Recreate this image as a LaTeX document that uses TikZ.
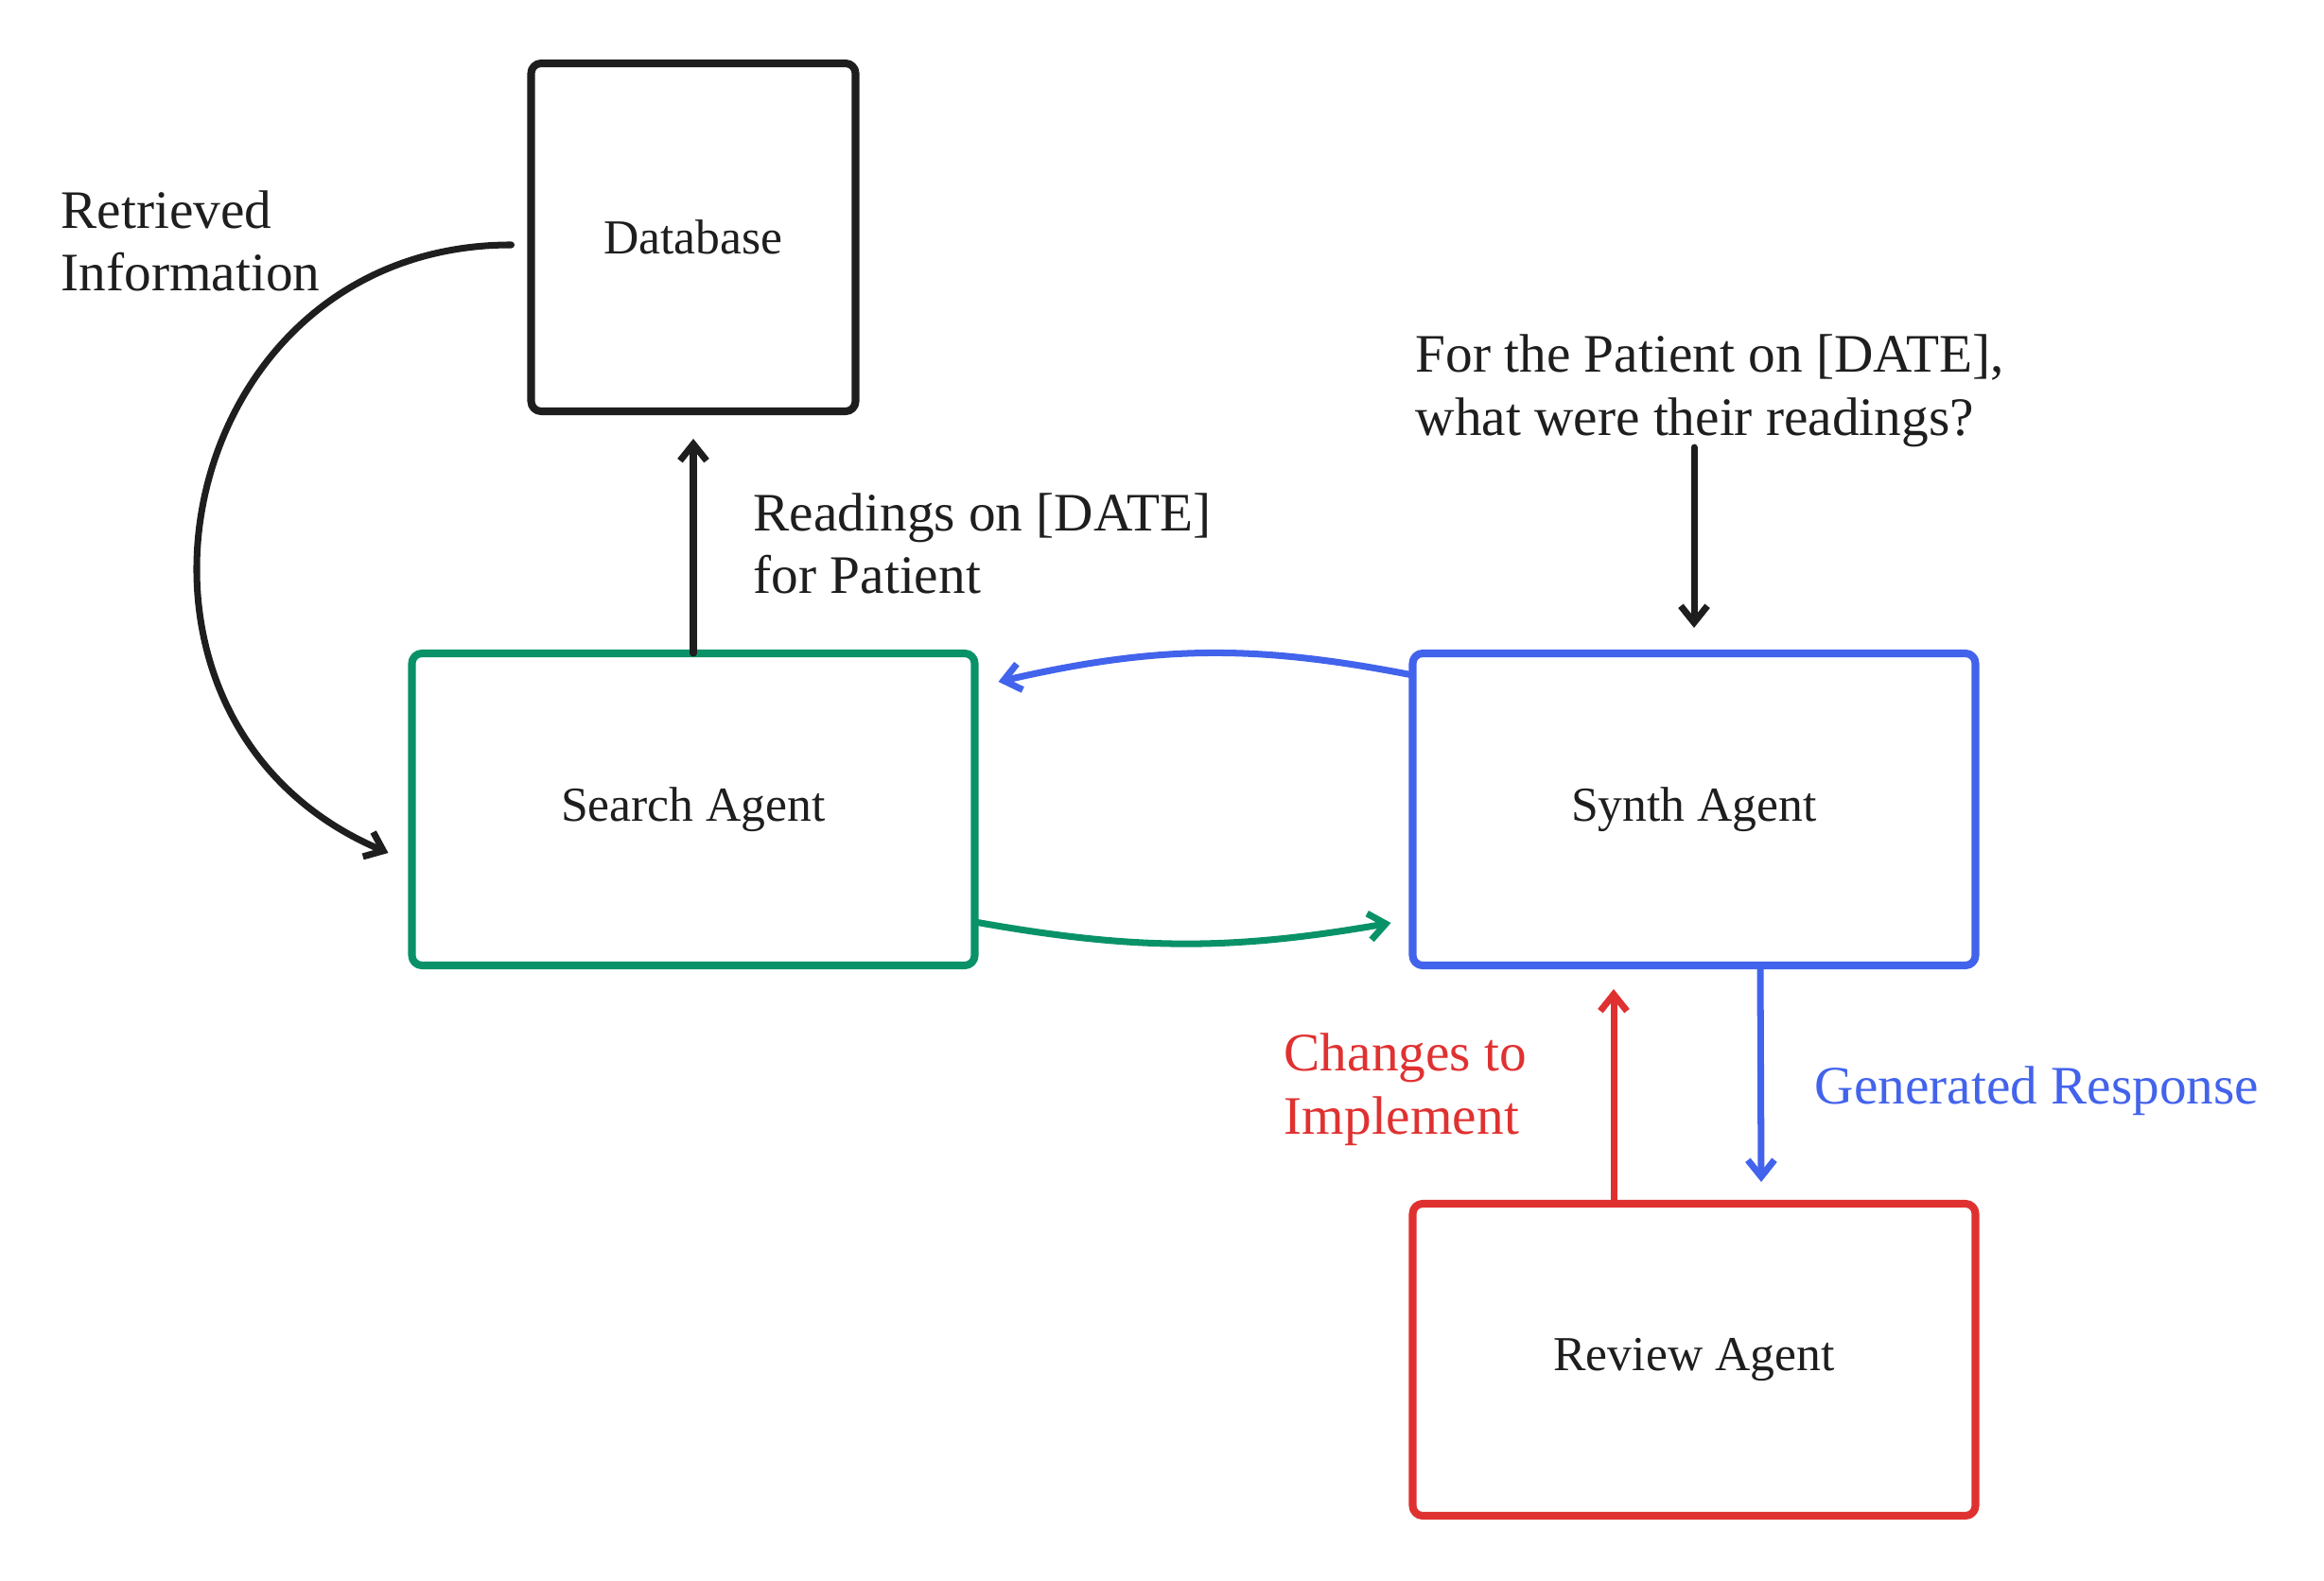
\documentclass[tikz,border=0pt]{standalone}
\usepackage{fontspec}
\setmainfont{Liberation Serif}
\usepackage{tikz}
\usetikzlibrary{arrows.meta}
\usetikzlibrary{positioning}
\definecolor{inkblack}{HTML}{1E1E1E}
\definecolor{agentgreen}{HTML}{099268}
\definecolor{agentblue}{HTML}{4263EB}
\definecolor{agentred}{HTML}{E03131}
\begin{document}
\begin{tikzpicture}[>={Straight Barb[length=5pt,width=8pt]}, line cap=round, line join=round]
\tikzstyle{box}=[draw, line width=2.3pt, rounded corners=3pt, fill=white, inner sep=0pt, outer sep=0pt, minimum width=5.95cm, minimum height=3.30cm, text=inkblack, font=\fontsize{14.7}{17.6}\selectfont]
\tikzstyle{lbl}=[inner sep=0pt, align=left, anchor=west, font=\fontsize{16.3}{19}\selectfont]
\tikzstyle{link}=[line width=2pt, ->]
\useasboundingbox (0,0) rectangle (24.57,16.71);
% boxes
\node (search) [box, draw=agentgreen] at (7.33,8.15) {Search Agent};
\node (db) [box, draw=inkblack, above of=search, node distance=6.05cm, minimum width=3.43cm, minimum height=3.68cm] {Database};
\node (synth) [box, draw=agentblue, right of=search, node distance=10.58cm] {Synth Agent};
\node (review) [box, draw=agentred, below of=synth, node distance=5.82cm] {Review Agent};
% labels
\node (retrieved) [lbl, text=inkblack] at (0.64,14.16) {Retrieved\\Information};
\node (readings) [lbl, text=inkblack] at (7.96,10.96) {Readings on [DATE]\\for Patient};
\node (question) [lbl, text=inkblack] at (14.96,12.58) {For the Patient on [DATE],\\what were their readings?};
\node (changes) [lbl, text=agentred] at (13.57,5.19) {Changes to\\Implement};
\node (generated) [lbl, text=agentblue] at (19.18,5.17) {Generated Response};
% connectors
\draw [link, inkblack] ([xshift=-0.21cm,yshift=-0.08cm]db.west) .. controls +(-3.6,0) and +(-3.3,1.4) .. ([xshift=-0.25cm,yshift=-0.46cm]search.west);
\draw [link, inkblack] (search.north) -- ([yshift=-0.29cm]db.south);
\draw [link, inkblack] (question.south -| synth.north) -- ([yshift=0.27cm]synth.north);
\draw [link, agentblue] ([yshift=1.42cm]synth.west) to[bend right=12] ([xshift=0.25cm,yshift=1.35cm]search.east);
\draw [link, agentgreen] ([yshift=-1.19cm]search.east) to[bend right=10] ([xshift=-0.23cm,yshift=-1.2cm]synth.west);
\draw [link, agentred] ([xshift=-0.85cm]review.north) -- ([xshift=-0.85cm,yshift=-0.25cm]synth.south);
\draw [link, agentblue] ([xshift=0.7cm]synth.south) -- ([xshift=0.71cm,yshift=0.23cm]review.north);
\end{tikzpicture}
\end{document}
